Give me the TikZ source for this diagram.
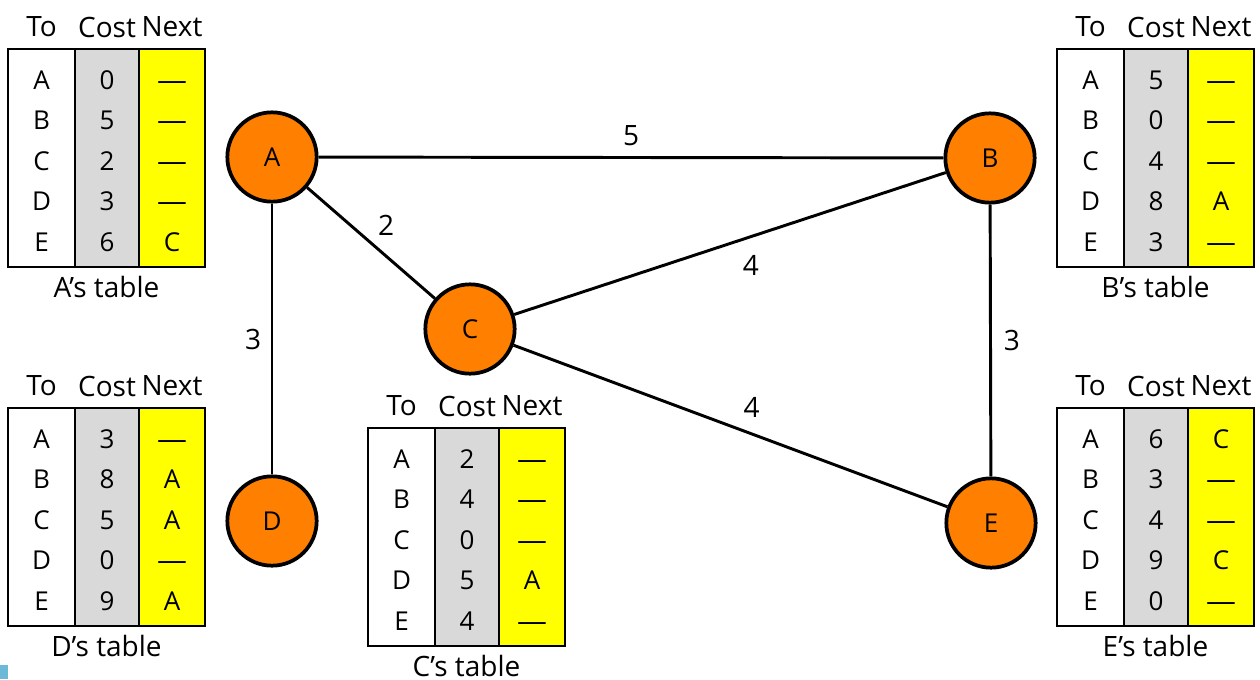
\documentclass[tikz,border=0pt]{standalone}
\usepackage{fontspec}
\setmainfont{Open Sans}
\usepackage{xcolor}
\usepackage{tikz}
\usetikzlibrary{positioning}
\definecolor{Pumpkin}{HTML}{FF8000}
\definecolor{Ash}{HTML}{D9D9D9}
\definecolor{Lemon}{HTML}{FFFF00}
\definecolor{Sky}{HTML}{6BB8D8}

\newcommand{\nohop}{\scalebox{1.15}[1]{\textemdash}}

% one routing table: #1 owner, #2 top left corner, #3 rows To/Cost/Next
\newcommand{\routetable}[3]{%
  \begin{scope}[shift={#2}]
    \draw[colbox,fill=white] (0,0) rectangle (67,218);
    \draw[colbox,fill=Ash] (67,0) rectangle (131,218);
    \draw[colbox,fill=Lemon] (131,0) rectangle (197,218);
    \node[head] (#1-hto) at (33.5,-22) {To};
    \node[head] (#1-hcost) at (99,-22) {Cost};
    \node[head] (#1-hnext) at (164,-22) {Next};
    \foreach \dst/\cst/\nxt [count=\r from 0] in {#3} {
      \node[cell] (#1-to\r) at (33.5,31+40.5*\r) {\dst};
      \node[cell] (#1-cost\r) at (99,31+40.5*\r) {\cst};
      \node[cell] (#1-next\r) at (164,31+40.5*\r) {\nxt};
    }
    \node[head] (#1-cap) at (98.5,238) {#1’s table};
  \end{scope}}

\begin{document}
\begin{tikzpicture}[
    x=0.75pt,y=-0.75pt,
    cell/.style={inner sep=0pt,text height=13.9pt,text depth=0pt,
      font=\fontsize{19.5}{22}\selectfont},
    head/.style={inner sep=0pt,font=\fontsize{21}{24}\selectfont},
    router/.style={circle,draw=black,line width=2.8pt,fill=Pumpkin,
      minimum size=67pt,inner sep=0pt,font=\fontsize{19.5}{22}\selectfont},
    colbox/.style={draw=black,line width=1.8pt},
    link/.style={draw=black,line width=2.2pt},
    weight/.style={inner sep=0pt,font=\fontsize{21}{24}\selectfont}
]
\useasboundingbox (0,0) rectangle (1260,679);
\fill[Sky] (0,665) rectangle (8,679);

\node[router] (A) at (272,157) {A};
\node[router] (B) at (990,158) {B};
\node[router] (C) at (470,329) {C};
\node[router] (D) at (272,521) {D};
\node[router] (E) at (991,523) {E};

\draw[link] (A) -- node[weight,above=8pt]{5} (B);
\draw[link] (A) -- node[weight,above right=6pt]{2} (C);
\draw[link] (A) -- node[weight,left=7pt]{3} (D);
\draw[link] (C) -- node[weight,pos=0.53,below=11pt,xshift=6pt]{4} (B);
\draw[link] (C) -- node[weight,pos=0.53,above=9pt,xshift=6pt]{4} (E);
\draw[link] (B) -- node[weight,right=9pt]{3} (E);

\routetable{A}{(8,49)}{A/0/\nohop, B/5/\nohop, C/2/\nohop, D/3/\nohop, E/6/C}
\routetable{B}{(1057,49)}{A/5/\nohop, B/0/\nohop, C/4/\nohop, D/8/A, E/3/\nohop}
\routetable{C}{(368,428)}{A/2/\nohop, B/4/\nohop, C/0/\nohop, D/5/A, E/4/\nohop}
\routetable{D}{(8,408)}{A/3/\nohop, B/8/A, C/5/A, D/0/\nohop, E/9/A}
\routetable{E}{(1057,408)}{A/6/C, B/3/\nohop, C/4/\nohop, D/9/C, E/0/\nohop}
\end{tikzpicture}
\end{document}
